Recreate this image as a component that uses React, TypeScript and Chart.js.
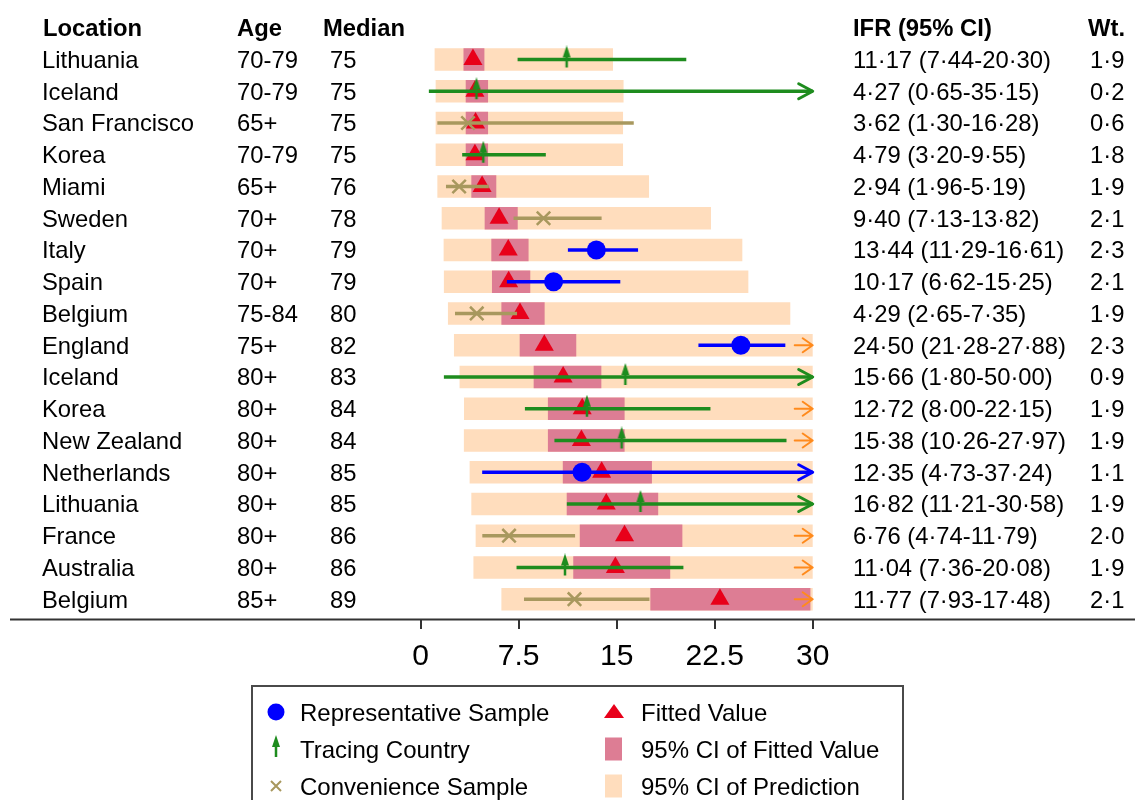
import React, { useEffect, useRef } from 'react';
import { Chart, registerables } from 'chart.js';

Chart.register(...registerables);

// ---------------- data ----------------
const locations = ['Lithuania', 'Iceland', 'San Francisco', 'Korea', 'Miami', 'Sweden', 'Italy', 'Spain', 'Belgium', 'England', 'Iceland', 'Korea', 'New Zealand', 'Netherlands', 'Lithuania', 'France', 'Australia', 'Belgium'];
const ages = ['70-79', '70-79', '65+', '70-79', '65+', '70+', '70+', '70+', '75-84', '75+', '80+', '80+', '80+', '80+', '80+', '80+', '80+', '85+'];
const medians = [75, 75, 75, 75, 76, 78, 79, 79, 80, 82, 83, 84, 84, 85, 85, 86, 86, 89];
// observed IFR with 95% CI
const ifr = [11.17, 4.27, 3.62, 4.79, 2.94, 9.40, 13.44, 10.17, 4.29, 24.50, 15.66, 12.72, 15.38, 12.35, 16.82, 6.76, 11.04, 11.77];
const ifrLo = [7.44, 0.65, 1.30, 3.20, 1.96, 7.13, 11.29, 6.62, 2.65, 21.28, 1.80, 8.00, 10.26, 4.73, 11.21, 4.74, 7.36, 7.93];
const ifrHi = [20.30, 35.15, 16.28, 9.55, 5.19, 13.82, 16.61, 15.25, 7.35, 27.88, 50.00, 22.15, 27.97, 37.24, 30.58, 11.79, 20.08, 17.48];
const weights = [1.9, 0.2, 0.6, 1.8, 1.9, 2.1, 2.3, 2.1, 1.9, 2.3, 0.9, 1.9, 1.9, 1.1, 1.9, 2.0, 1.9, 2.1];
// R = representative sample, T = tracing country, C = convenience sample
const sampleType = ['T', 'T', 'C', 'T', 'C', 'C', 'R', 'R', 'C', 'R', 'T', 'T', 'T', 'R', 'T', 'C', 'T', 'C'];
// fitted values, 95% CI of fitted value, 95% CI of prediction
const fitted = [4.0, 4.15, 4.2, 4.15, 4.7, 6.0, 6.7, 6.73, 7.6, 9.46, 10.9, 12.36, 12.3, 13.85, 14.2, 15.6, 14.9, 22.9];
const ciLo = [3.3, 3.47, 3.47, 3.47, 3.9, 4.92, 5.43, 5.48, 6.2, 7.6, 8.67, 9.76, 9.76, 10.9, 11.2, 12.2, 11.7, 17.6];
const ciHi = [4.85, 5.13, 5.13, 5.13, 5.76, 7.4, 8.23, 8.36, 9.46, 11.88, 13.8, 15.58, 15.58, 17.67, 18.15, 20.0, 19.07, 29.8];
const predLo = [1.09, 1.17, 1.17, 1.17, 1.3, 1.63, 1.78, 1.8, 2.11, 2.57, 3.0, 3.34, 3.33, 3.77, 3.9, 4.23, 4.06, 6.2];
const predHi = [14.69, 15.5, 15.46, 15.46, 17.45, 22.19, 24.59, 25.05, 28.26, 34.8, 39.6, 45.7, 45.4, 50.9, 51.7, 57.5, 54.7, 84.6];
const xTicks = [0, 7.5, 15, 22.5, 30];
const headers = ['Location', 'Age', 'Median', 'IFR (95% CI)', 'Wt.'];
const legendLabels = ['Representative Sample', 'Tracing Country', 'Convenience Sample', 'Fitted Value', '95% CI of Fitted Value', '95% CI of Prediction'];

// ---------------- styling ----------------
const XMIN = 0;
const XMAX = 30;
const FONT = "'Liberation Sans', Arial, sans-serif";
const TYPE_COLOR: Record<string, string> = { R: '#0000FF', T: '#1E8C1E', C: '#A8985E' };
const PRED_COLOR = '#FFDDBD';
const CI_COLOR = '#DD7D94';
const FIT_COLOR = '#E8001A';
const ORANGE = '#FF8A1C';

const fmt = (v: number, d: number) => v.toFixed(d).replace('.', '·');

function makeTracingMarker(color: string) {
  const c = document.createElement('canvas');
  c.width = 10;
  c.height = 28;
  const g = c.getContext('2d')!;
  g.fillStyle = color;
  g.beginPath();
  g.moveTo(5, 0);
  g.lineTo(9, 12);
  g.lineTo(1, 12);
  g.closePath();
  g.fill();
  g.fillRect(3.75, 8, 2.5, 14);
  return c;
}

export default function App() {
  const ref = useRef<HTMLCanvasElement | null>(null);

  useEffect(() => {
    const canvas = ref.current!;
    const tracingMarker = makeTracingMarker(TYPE_COLOR.T);
    const rows = locations.map((_, i) => i + 1);

    const pick = (t: string) =>
      rows.filter((_, i) => sampleType[i] === t).map((r) => ({ x: ifr[r - 1], y: r }));

    const textPlugin = {
      id: 'forestText',
      afterDatasetsDraw(chart: any) {
        const { ctx, scales } = chart;
        const x = scales.x;
        const y = scales.y;
        const xr = x.getPixelForValue(XMAX);
        ctx.save();
        ctx.lineCap = 'round';
        ctx.lineJoin = 'round';
        rows.forEach((r, i) => {
          const yy = y.getPixelForValue(r);
          if (ifrHi[i] > XMAX) {
            ctx.strokeStyle = TYPE_COLOR[sampleType[i]];
            ctx.lineWidth = 3;
            ctx.beginPath();
            ctx.moveTo(xr - 14, yy - 7.5);
            ctx.lineTo(xr, yy);
            ctx.lineTo(xr - 14, yy + 7.5);
            ctx.stroke();
          } else if (predHi[i] > XMAX) {
            ctx.strokeStyle = ORANGE;
            ctx.lineWidth = 2;
            ctx.beginPath();
            ctx.moveTo(xr - 18, yy);
            ctx.lineTo(xr, yy);
            ctx.moveTo(xr - 10, yy - 7);
            ctx.lineTo(xr, yy);
            ctx.lineTo(xr - 10, yy + 7);
            ctx.stroke();
          }
        });
        ctx.restore();
      },
      afterDraw(chart: any) {
        const { ctx, scales } = chart;
        const y = scales.y;
        ctx.save();
        // full-width axis line
        ctx.strokeStyle = '#333';
        ctx.lineWidth = 2;
        ctx.beginPath();
        ctx.moveTo(10, y.bottom + 0.5);
        ctx.lineTo(1135, y.bottom + 0.5);
        ctx.stroke();

        const colX = [43, 237, 323, 853, 1088];
        const valX = [42, 237, 330, 853, 1090];
        ctx.fillStyle = '#000';
        ctx.textAlign = 'left';
        ctx.textBaseline = 'alphabetic';
        const hy = y.getPixelForValue(0) + 8.5;
        ctx.font = `bold 23.8px ${FONT}`;
        headers.forEach((h, k) => ctx.fillText(h, colX[k], hy));
        ctx.font = `23.8px ${FONT}`;
        rows.forEach((r, i) => {
          const yy = y.getPixelForValue(r) + 8.5;
          ctx.fillText(locations[i], valX[0], yy);
          ctx.fillText(ages[i], valX[1], yy);
          ctx.fillText(String(medians[i]), valX[2], yy);
          ctx.fillText(`${fmt(ifr[i], 2)} (${fmt(ifrLo[i], 2)}-${fmt(ifrHi[i], 2)})`, valX[3], yy);
          ctx.fillText(fmt(weights[i], 1), valX[4], yy);
        });

        // legend
        ctx.strokeStyle = '#4a4a4a';
        ctx.lineWidth = 2;
        ctx.strokeRect(252, 686, 651, 140);
        const ly = [712, 749, 786];
        ctx.fillStyle = TYPE_COLOR.R;
        ctx.beginPath();
        ctx.arc(276, ly[0], 8.5, 0, Math.PI * 2);
        ctx.fill();
        ctx.drawImage(tracingMarker, 276 - 5, ly[1] - 14);
        ctx.strokeStyle = TYPE_COLOR.C;
        ctx.lineWidth = 2;
        ctx.beginPath();
        ctx.moveTo(271, ly[2] - 5);
        ctx.lineTo(281, ly[2] + 5);
        ctx.moveTo(281, ly[2] - 5);
        ctx.lineTo(271, ly[2] + 5);
        ctx.stroke();
        ctx.fillStyle = FIT_COLOR;
        ctx.beginPath();
        ctx.moveTo(614, ly[0] - 8);
        ctx.lineTo(624, ly[0] + 6);
        ctx.lineTo(604, ly[0] + 6);
        ctx.closePath();
        ctx.fill();
        ctx.fillStyle = CI_COLOR;
        ctx.fillRect(605, ly[1] - 11.5, 17, 23);
        ctx.fillStyle = PRED_COLOR;
        ctx.fillRect(605, ly[2] - 11.5, 17, 23);

        ctx.fillStyle = '#000';
        ctx.font = `24px ${FONT}`;
        legendLabels.forEach((t, k) => {
          const lx = k < 3 ? 300 : 641;
          ctx.fillText(t, lx, ly[k % 3] + 8.6);
        });
        ctx.restore();
      },
    };

    const chart = new Chart(canvas, {
      type: 'scatter',
      data: {
        datasets: [
          {
            type: 'bar',
            label: 'Prediction',
            indexAxis: 'y',
            data: rows.map((r, i) => ({ y: r, x: [predLo[i], Math.min(predHi[i], XMAX)] })),
            backgroundColor: PRED_COLOR,
            borderWidth: 0,
            barThickness: 22,
            grouped: false,
            order: 10,
          },
          {
            type: 'bar',
            label: 'CI fitted',
            indexAxis: 'y',
            data: rows.map((r, i) => ({ y: r, x: [ciLo[i], Math.min(ciHi[i], XMAX)] })),
            backgroundColor: CI_COLOR,
            borderWidth: 0,
            barThickness: 22,
            grouped: false,
            order: 9,
          },
          {
            type: 'scatter',
            label: 'Fitted',
            data: rows.map((r, i) => ({ x: fitted[i], y: r })),
            pointStyle: 'triangle',
            pointRadius: 11,
            backgroundColor: FIT_COLOR,
            borderColor: FIT_COLOR,
            borderWidth: 0,
            order: 8,
          },
          {
            type: 'bar',
            label: 'Observed CI',
            indexAxis: 'y',
            data: rows.map((r, i) => ({ y: r, x: [ifrLo[i], Math.min(ifrHi[i], XMAX)] })),
            backgroundColor: sampleType.map((t) => TYPE_COLOR[t]),
            borderWidth: 0,
            barThickness: 3,
            grouped: false,
            order: 7,
          },
          {
            type: 'scatter',
            label: 'Representative Sample',
            data: pick('R'),
            pointStyle: 'circle',
            pointRadius: 9.5,
            backgroundColor: TYPE_COLOR.R,
            borderColor: TYPE_COLOR.R,
            borderWidth: 0,
            order: 3,
          },
          {
            type: 'scatter',
            label: 'Tracing Country',
            data: pick('T'),
            pointStyle: tracingMarker,
            pointRadius: 10,
            order: 2,
          },
          {
            type: 'scatter',
            label: 'Convenience Sample',
            data: pick('C'),
            pointStyle: 'crossRot',
            pointRadius: 9.5,
            borderColor: TYPE_COLOR.C,
            backgroundColor: TYPE_COLOR.C,
            borderWidth: 2.5,
            order: 1,
          },
        ] as any,
      },
      options: {
        responsive: false,
        animation: false,
        events: [],
        layout: { padding: { left: 420.7, right: 322.3, top: 39.8, bottom: 121.1 } },
        plugins: { legend: { display: false }, tooltip: { enabled: false } },
        scales: {
          x: {
            type: 'linear',
            min: XMIN,
            max: XMAX,
            offset: false,
            position: 'bottom',
            afterBuildTicks: (s: any) => {
              s.ticks = xTicks.map((v) => ({ value: v }));
            },
            afterFit: (s: any) => {
              s.height = 60;
            },
            ticks: {
              autoSkip: false,
              maxRotation: 0,
              color: '#000',
              padding: 10,
              font: { size: 30, family: FONT },
              callback: (v: any) => String(v),
            },
            grid: { offset: false, drawOnChartArea: false, drawTicks: true, tickLength: 10, color: '#333', lineWidth: 2 },
            border: { display: false },
          },
          y: {
            type: 'linear',
            min: 0.38,
            max: 18.62,
            offset: false,
            grid: { offset: false },
            reverse: true,
            display: false,
          },
        },
      } as any,
      plugins: [textPlugin],
    });
    return () => chart.destroy();
  }, []);

  return (
    <div style={{ position: 'absolute', left: 0, top: 0, width: 1135, height: 800, background: '#fff' }}>
      <canvas ref={ref} width={1135} height={800} />
    </div>
  );
}
